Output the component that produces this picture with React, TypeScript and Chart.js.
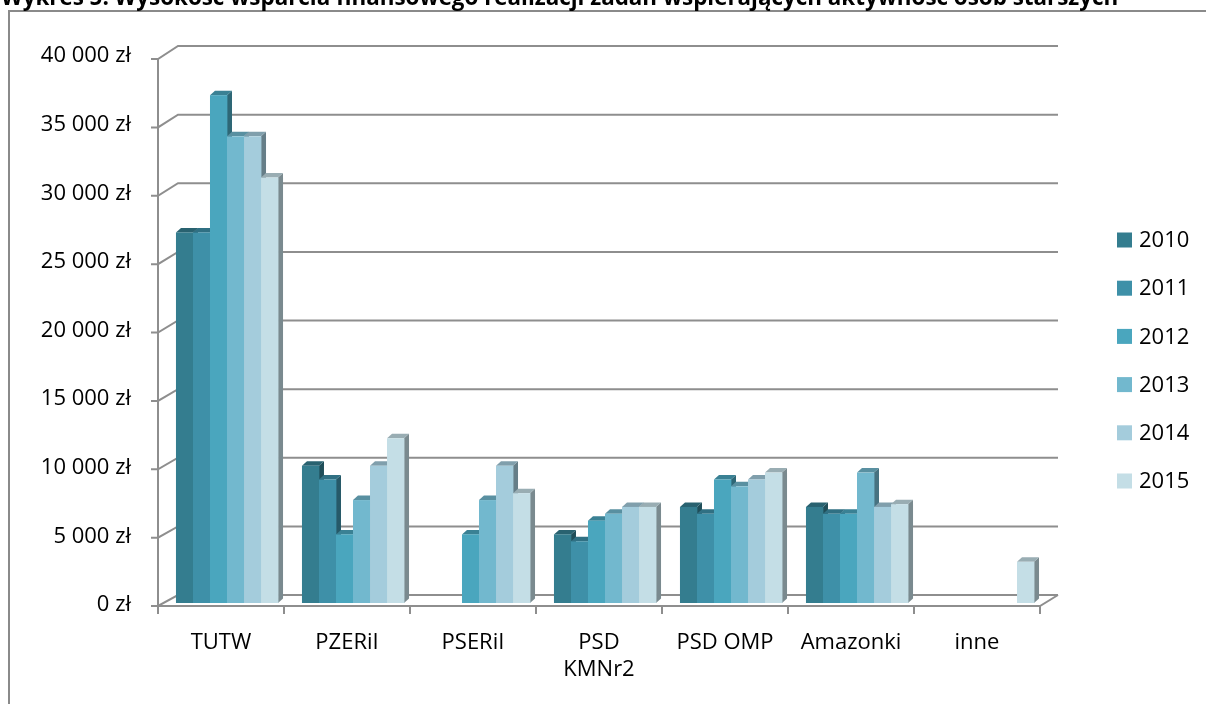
import React, { useEffect, useRef } from 'react';
import { Chart, registerables } from 'chart.js';

Chart.register(...registerables);

const TITLE =
  'Wykres 5. Wysokość wsparcia finansowego realizacji zadań wspierających aktywność osób starszych';

const categories: (string | string[])[] = ['TUTW', 'PZERiI', 'PSERiI', ['PSD', 'KMNr2'], 'PSD OMP', 'Amazonki', 'inne'];
const years = ['2010', '2011', '2012', '2013', '2014', '2015'];

const v2010 = [27000, 10000, null, 5000, 7000, 7000, null];
const v2011 = [27000, 9000, null, 4500, 6500, 6500, null];
const v2012 = [37000, 5000, 5000, 6000, 9000, 6500, null];
const v2013 = [34000, 7500, 7500, 6500, 8500, 9500, null];
const v2014 = [34000, 10000, 10000, 7000, 9000, 7000, null];
const v2015 = [31000, 12000, 8000, 7000, 9500, 7200, 3000];

const yTicks = [0, 5000, 10000, 15000, 20000, 25000, 30000, 35000, 40000];

const seriesColors = ['#347d8f', '#3e90a8', '#4aa6be', '#72b8ce', '#a4ccdc', '#c4dee6'];
const GRID = '#8e8e8e';
const FONT = '"Open Sans", "DejaVu Sans", sans-serif';

function shade(hex: string, f: number) {
  const n = parseInt(hex.slice(1), 16);
  const r = Math.round(((n >> 16) & 255) * f);
  const g = Math.round(((n >> 8) & 255) * f);
  const b = Math.round((n & 255) * f);
  return `rgb(${r},${g},${b})`;
}

function fmt(v: number) {
  return String(v).replace(/\B(?=(\d{3})+(?!\d))/g, ' ') + ' zł';
}

const DX = 5;
const DY = 4.5;

const excel3d = {
  id: 'excel3d',
  beforeDraw(chart: any) {
    const { ctx, width, height } = chart;
    ctx.save();
    ctx.fillStyle = '#fff';
    ctx.fillRect(0, 0, width, height);
    // frame
    ctx.strokeStyle = '#8a8a8a';
    ctx.lineWidth = 2;
    ctx.beginPath();
    ctx.moveTo(9, height);
    ctx.lineTo(9, 11);
    ctx.lineTo(width, 11);
    ctx.stroke();
    // title (clipped at top)
    ctx.font = `bold 16px ${FONT}`;
    const w = ctx.measureText(TITLE).width;
    const size = (16 * 1118) / w;
    ctx.font = `bold ${size}px ${FONT}`;
    ctx.fillStyle = '#000';
    ctx.textBaseline = 'alphabetic';
    ctx.textAlign = 'left';
    ctx.fillText(TITLE, 1, 5);
    ctx.restore();
  },
  beforeDatasetsDraw(chart: any) {
    const ctx = chart.ctx;
    const yS = chart.scales.y;
    const xS = chart.scales.x;
    const bottom = chart.chartArea.bottom;
    const front = (p: number) => 606 + (p - bottom) * (547 / 549);
    const back = (p: number) => p - 8;
    const axX = xS.left - 6;
    const backX = axX + 20;
    const frontRight = axX + xS.width;
    const backRight = frontRight + 18;
    ctx.save();
    ctx.strokeStyle = GRID;
    ctx.lineWidth = 2;
    ctx.lineJoin = 'miter';
    yS.ticks.forEach((t: any) => {
      const p = yS.getPixelForValue(t.value);
      ctx.beginPath();
      ctx.moveTo(axX - 7, front(p));
      ctx.lineTo(axX, front(p));
      ctx.lineTo(backX, back(p));
      ctx.lineTo(backRight, back(p));
      ctx.stroke();
    });
    ctx.beginPath();
    ctx.moveTo(axX, front(yS.getPixelForValue(yS.max)));
    ctx.lineTo(axX, front(bottom));
    ctx.lineTo(frontRight, front(bottom));
    ctx.lineTo(backRight, back(bottom));
    ctx.stroke();
    const n = chart.data.labels.length;
    const step = xS.width / n;
    for (let k = 0; k <= n; k++) {
      const x = axX + k * step;
      ctx.beginPath();
      ctx.moveTo(x, front(bottom));
      ctx.lineTo(x, front(bottom) + 8);
      ctx.stroke();
    }
    // bars
    const ds = chart.data.datasets;
    for (let j = 0; j < n; j++) {
      for (let i = 0; i < ds.length; i++) {
        const v = ds[i].data[j];
        if (v === null || v === undefined) continue;
        const el = chart.getDatasetMeta(i).data[j];
        const { x, y, base, width } = el.getProps(['x', 'y', 'base', 'width'], true);
        const l = x - width / 2;
        const r = x + width / 2;
        const c = ds[i].backgroundColor as string;
        ctx.fillStyle = shade(c, 0.62);
        ctx.beginPath();
        ctx.moveTo(r, y);
        ctx.lineTo(r + DX, y - DY);
        ctx.lineTo(r + DX, base - DY);
        ctx.lineTo(r, base);
        ctx.closePath();
        ctx.fill();
        ctx.fillStyle = shade(c, 0.78);
        ctx.beginPath();
        ctx.moveTo(l, y);
        ctx.lineTo(l + DX, y - DY);
        ctx.lineTo(r + DX, y - DY);
        ctx.lineTo(r, y);
        ctx.closePath();
        ctx.fill();
        ctx.fillStyle = c;
        ctx.fillRect(l, y, width + 0.4, base - y);
      }
    }
    ctx.restore();
    return false;
  },
  afterDraw(chart: any) {
    const ctx = chart.ctx;
    ctx.save();
    ctx.font = `22px ${FONT}`;
    ctx.textBaseline = 'middle';
    ctx.textAlign = 'left';
    chart.data.datasets.forEach((d: any, i: number) => {
      const cy = 240 + i * 48.2;
      ctx.fillStyle = d.backgroundColor;
      ctx.fillRect(1117, cy - 7.5, 15, 15);
      ctx.fillStyle = '#000';
      ctx.fillText(d.label, 1139, cy + 1);
    });
    ctx.restore();
  },
};

export default function App() {
  const ref = useRef<HTMLCanvasElement>(null);
  useEffect(() => {
    const seriesData = [v2010, v2011, v2012, v2013, v2014, v2015];
    Chart.defaults.font.family = FONT;
    const chart = new Chart(ref.current!, {
      type: 'bar',
      data: {
        labels: categories,
        datasets: years.map((y, i) => ({
          label: y,
          data: seriesData[i],
          backgroundColor: seriesColors[i],
          borderWidth: 0,
          categoryPercentage: 0.81,
          barPercentage: 1,
        })),
      },
      options: {
        responsive: false,
        animation: false,
        devicePixelRatio: 1,
        layout: { padding: { top: 54, right: 160, left: 0, bottom: 0 } },
        plugins: { legend: { display: false }, tooltip: { enabled: false }, title: { display: false } },
        scales: {
          x: {
            grid: { display: false, drawTicks: false },
            border: { display: false },
            ticks: {
              color: '#000',
              font: { size: 22, lineHeight: 1.22 },
              padding: 26,
              labelOffset: -6,
              maxRotation: 0,
              autoSkip: false,
            },
            afterFit: (s: any) => {
              s.height = 101;
            },
          },
          y: {
            min: 0,
            max: 40000,
            grid: { display: false, drawTicks: false },
            border: { display: false },
            afterBuildTicks: (s: any) => {
              s.ticks = yTicks.map((v) => ({ value: v }));
            },
            ticks: {
              color: '#000',
              font: { size: 22 },
              padding: 33,
              labelOffset: 2,
              callback: (v: any) => fmt(Number(v)),
            },
            afterFit: (s: any) => {
              s.width = 164;
            },
          },
        },
      },
      plugins: [excel3d],
    });
    return () => chart.destroy();
  }, []);
  return (
    <div style={{ position: 'fixed', left: 0, top: 0, width: 1206, height: 704, background: '#fff' }}>
      <canvas ref={ref} width={1206} height={704} style={{ display: 'block' }} />
    </div>
  );
}
